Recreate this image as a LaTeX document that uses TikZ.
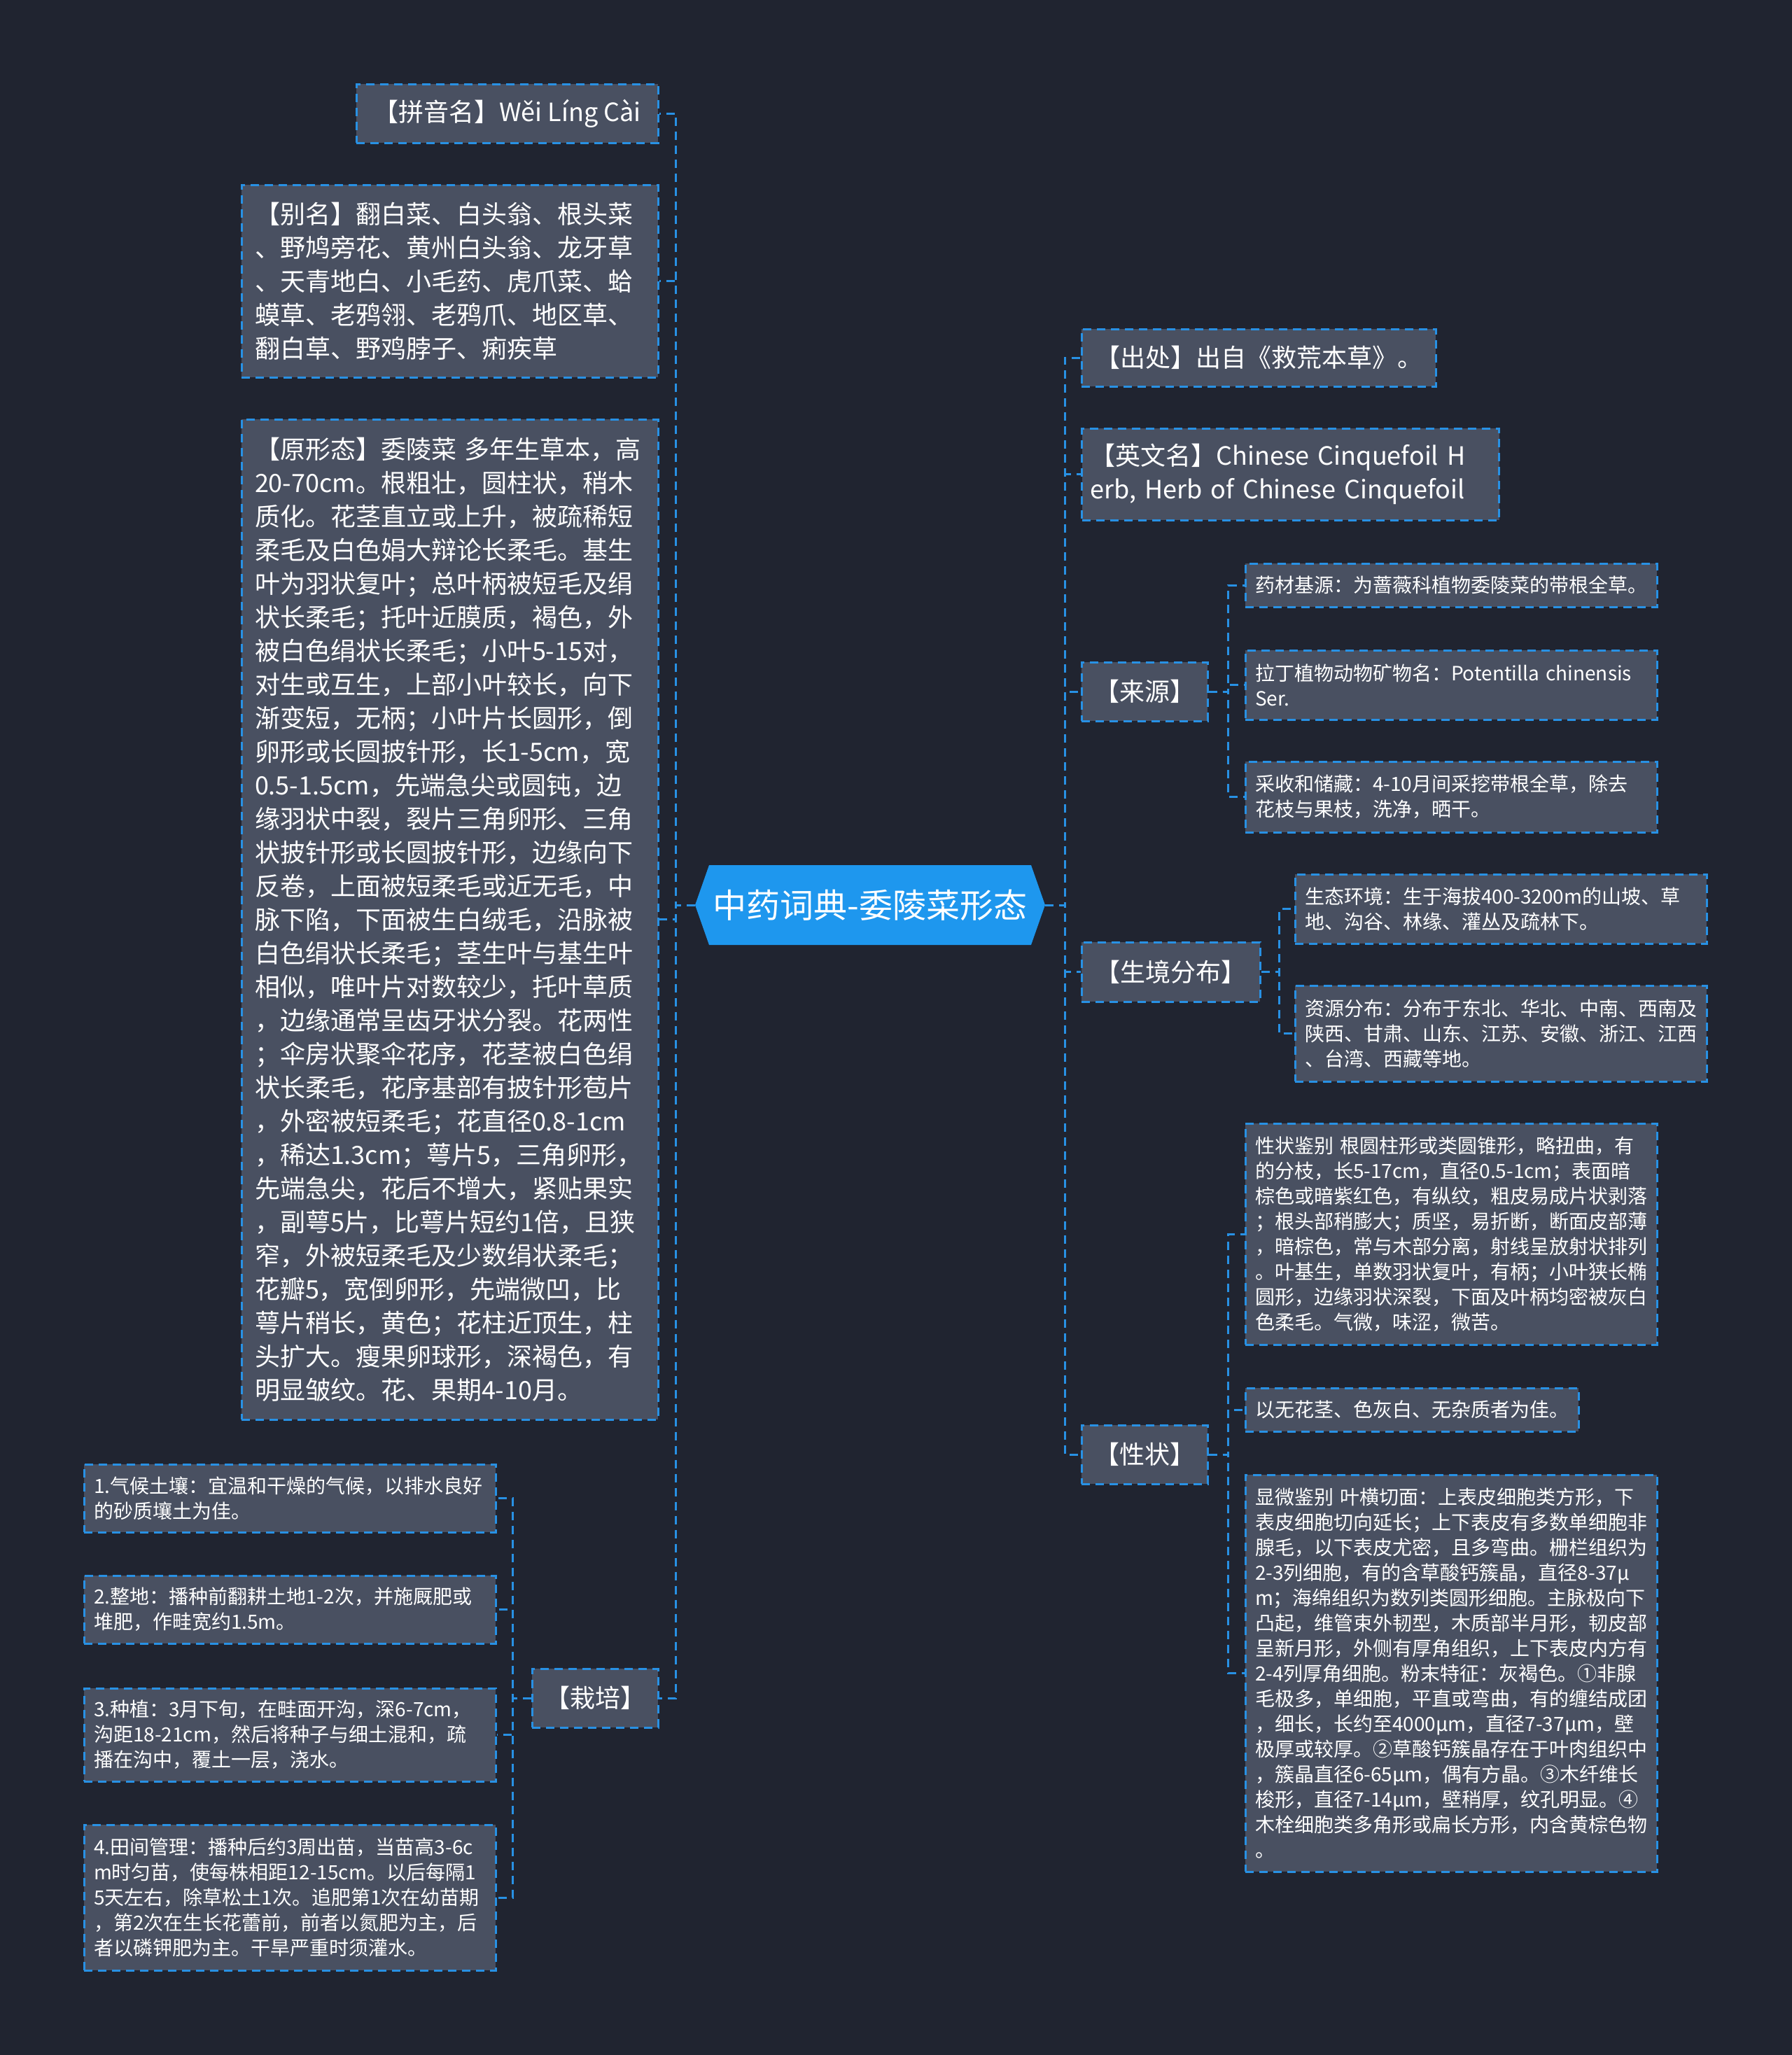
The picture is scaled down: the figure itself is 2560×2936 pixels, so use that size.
\documentclass[tikz,border=0pt]{standalone}
\usepackage{fontspec}
\setmainfont{Noto Sans CJK SC}
\definecolor{bgc}{RGB}{32,36,48}
\definecolor{boxfill}{RGB}{73,80,97}
\definecolor{lineblue}{RGB}{40,145,228}
\definecolor{rootblue}{RGB}{30,151,238}
\tikzset{
  box/.style={draw=lineblue, fill=boxfill, dash pattern=on 6pt off 4pt, line width=1.5pt, text=white, inner ysep=0pt, anchor=center},
  bigbox/.style={box, font=\fontsize{18pt}{24pt}\selectfont, inner xsep=9.5pt, align=left},
  bigone/.style={box, font=\fontsize{18pt}{24pt}\selectfont, inner xsep=0pt, align=center},
  smallbox/.style={box, font=\fontsize{14pt}{18pt}\selectfont, inner xsep=7pt, align=left},
  conn/.style={draw=lineblue, dash pattern=on 6pt off 4pt, line width=1.5pt},
}
\begin{document}
\begin{tikzpicture}[x=0.5pt,y=-0.5pt]
\fill[bgc] (0,0) rectangle (2560,2936);
\useasboundingbox (0,0) rectangle (2560,2936);
% root
\fill[rootblue] (993,1293) -- (1013,1236) -- (1473,1236) -- (1493,1293) -- (1473,1350) -- (1013,1350) -- cycle;
\node[minimum width=250pt, minimum height=57pt, inner sep=0pt, text=white, font=\fontsize{24pt}{28pt}\selectfont] (root) at (1243,1293) {中药词典-委陵菜形态};
% left level 1
\node[bigone, minimum width=215.5pt, minimum height=42pt] (pinyin) at (724.5,162) {【拼音名】Wěi Líng Cài};
\node[bigbox, text width=278.5pt, minimum height=137.5pt] (bieming) at (642.5,401.5) {【别名】翻白菜、白头翁、根头菜\\、野鸠旁花、黄州白头翁、龙牙草\\、天青地白、小毛药、虎爪菜、蛤\\蟆草、老鸦翎、老鸦爪、地区草、\\翻白草、野鸡脖子、痢疾草};
\node[bigbox, text width=278.5pt, minimum height=714.5pt] (yuan) at (642.5,1313.5) {\mbox{【原形态】委陵菜 多年生草本，高}\\20-70cm。根粗壮，圆柱状，稍木\\质化。花茎直立或上升，被疏稀短\\柔毛及白色娟大辩论长柔毛。基生\\叶为羽状复叶；总叶柄被短毛及绢\\状长柔毛；托叶近膜质，褐色，外\\被白色绢状长柔毛；小叶5-15对，\\对生或互生，上部小叶较长，向下\\渐变短，无柄；小叶片长圆形，倒\\卵形或长圆披针形，长1-5cm，宽\\0.5-1.5cm，先端急尖或圆钝，边\\缘羽状中裂，裂片三角卵形、三角\\状披针形或长圆披针形，边缘向下\\反卷，上面被短柔毛或近无毛，中\\脉下陷，下面被生白绒毛，沿脉被\\白色绢状长柔毛；茎生叶与基生叶\\相似，唯叶片对数较少，托叶草质\\，边缘通常呈齿牙状分裂。花两性\\；伞房状聚伞花序，花茎被白色绢\\状长柔毛，花序基部有披针形苞片\\，外密被短柔毛；花直径0.8-1cm\\，稀达1.3cm；萼片5，三角卵形，\\先端急尖，花后不增大，紧贴果实\\，副萼5片，比萼片短约1倍，且狭\\窄，外被短柔毛及少数绢状柔毛；\\花瓣5，宽倒卵形，先端微凹，比\\萼片稍长，黄色；花柱近顶生，柱\\头扩大。瘦果卵球形，深褐色，有\\明显皱纹。花、果期4-10月。};
\node[bigone, minimum width=90pt, minimum height=42pt] (zaipei) at (850,2426) {【栽培】};
% zaipei children
\node[smallbox, text width=280pt, minimum height=48.5pt] (z1) at (414,2140.5) {1.气候土壤：宜温和干燥的气候，以排水良好\\的砂质壤土为佳。};
\node[smallbox, text width=280pt, minimum height=48.5pt] (z2) at (414,2299.5) {2.整地：播种前翻耕土地1-2次，并施厩肥或\\堆肥，作畦宽约1.5m。};
\node[smallbox, text width=280pt, minimum height=66.5pt] (z3) at (414,2478.5) {3.种植：3月下旬，在畦面开沟，深6-7cm，\\沟距18-21cm，然后将种子与细土混和，疏\\播在沟中，覆土一层，浇水。};
\node[smallbox, text width=280pt, minimum height=104pt] (z4) at (414,2711) {4.田间管理：播种后约3周出苗，当苗高3-6c\\m时匀苗，使每株相距12-15cm。以后每隔1\\5天左右，除草松土1次。追肥第1次在幼苗期\\，第2次在生长花蕾前，前者以氮肥为主，后\\者以磷钾肥为主。干旱严重时须灌水。};
% right level 1
\node[bigone, minimum width=253pt, minimum height=41pt] (chuchu) at (1798,511) {【出处】出自《救荒本草》。};
\node[bigbox, inner xsep=6pt, text width=286pt, minimum height=65.5pt] (yingwen) at (1843.5,677.5) {\mbox{【英文名】Chinese Cinquefoil H}\\\mbox{erb, Herb of Chinese Cinquefoil}};
\node[bigone, minimum width=90pt, minimum height=42pt] (laiyuan) at (1635,988) {【来源】};
\node[bigone, minimum width=127.5pt, minimum height=42.5pt] (shengjing) at (1672.5,1388.5) {【生境分布】};
\node[bigone, minimum width=90pt, minimum height=42pt] (xingzhuang) at (1635,2078) {【性状】};
% laiyuan children
\node[smallbox, text width=280pt, minimum height=31pt] (ly1) at (2073,836) {药材基源：为蔷薇科植物委陵菜的带根全草。};
\node[smallbox, text width=280pt, minimum height=49.5pt] (ly2) at (2073,978.5) {\mbox{拉丁植物动物矿物名：Potentilla chinensis}\\Ser.};
\node[smallbox, text width=280pt, minimum height=50.5pt] (ly3) at (2073,1138.5) {采收和储藏：4-10月间采挖带根全草，除去\\花枝与果枝，洗净，晒干。};
% shengjing children
\node[smallbox, text width=280pt, minimum height=49.5pt] (sj1) at (2144,1298.5) {生态环境：生于海拔400-3200m的山坡、草\\地、沟谷、林缘、灌丛及疏林下。};
\node[smallbox, text width=280pt, minimum height=68.5pt] (sj2) at (2144,1476.5) {资源分布：分布于东北、华北、中南、西南及\\陕西、甘肃、山东、江苏、安徽、浙江、江西\\、台湾、西藏等地。};
% xingzhuang children
\node[smallbox, text width=280pt, minimum height=158pt] (xz1) at (2073,1763) {\mbox{性状鉴别 根圆柱形或类圆锥形，略扭曲，有}\\的分枝，长5-17cm，直径0.5-1cm；表面暗\\棕色或暗紫红色，有纵纹，粗皮易成片状剥落\\；根头部稍膨大；质坚，易折断，断面皮部薄\\，暗棕色，常与木部分离，射线呈放射状排列\\。叶基生，单数羽状复叶，有柄；小叶狭长椭\\圆形，边缘羽状深裂，下面及叶柄均密被灰白\\色柔毛。气微，味涩，微苦。};
\node[smallbox, text width=224pt, minimum height=31pt] (xz2) at (2017,2014) {以无花茎、色灰白、无杂质者为佳。};
\node[smallbox, text width=280pt, minimum height=283.5pt] (xz3) at (2073,2390.5) {\mbox{显微鉴别 叶横切面：上表皮细胞类方形，下}\\表皮细胞切向延长；上下表皮有多数单细胞非\\腺毛，以下表皮尤密，且多弯曲。栅栏组织为\\2-3列细胞，有的含草酸钙簇晶，直径8-37μ\\m；海绵组织为数列类圆形细胞。主脉极向下\\凸起，维管束外韧型，木质部半月形，韧皮部\\呈新月形，外侧有厚角组织，上下表皮内方有\\2-4列厚角细胞。粉末特征：灰褐色。①非腺\\毛极多，单细胞，平直或弯曲，有的缠结成团\\，细长，长约至4000μm，直径7-37μm，壁\\极厚或较厚。②草酸钙簇晶存在于叶肉组织中\\，簇晶直径6-65μm，偶有方晶。③木纤维长\\梭形，直径7-14μm，壁稍厚，纹孔明显。④\\木栓细胞类多角形或扁长方形，内含黄棕色物\\。};
% connectors left
\draw[conn] (root.west) -- ++(-27,0) |- (pinyin.east);
\draw[conn] (root.west) -- ++(-27,0) |- (bieming.east);
\draw[conn] (root.west) -- ++(-27,0) |- (yuan.east);
\draw[conn] (root.west) -- ++(-27,0) |- (zaipei.east);
\draw[conn] (zaipei.west) -- ++(-26,0) |- (z1.east);
\draw[conn] (zaipei.west) -- ++(-26,0) |- (z2.east);
\draw[conn] (zaipei.west) -- ++(-26,0) |- (z3.east);
\draw[conn] (zaipei.west) -- ++(-26,0) |- (z4.east);
% connectors right
\draw[conn] (root.east) -- ++(28,0) |- (chuchu.west);
\draw[conn] (root.east) -- ++(28,0) |- (yingwen.west);
\draw[conn] (root.east) -- ++(28,0) |- (laiyuan.west);
\draw[conn] (root.east) -- ++(28,0) |- (shengjing.west);
\draw[conn] (root.east) -- ++(28,0) |- (xingzhuang.west);
\draw[conn] (laiyuan.east) -- ++(28,0) |- (ly1.west);
\draw[conn] (laiyuan.east) -- ++(28,0) |- (ly2.west);
\draw[conn] (laiyuan.east) -- ++(28,0) |- (ly3.west);
\draw[conn] (shengjing.east) -- ++(26,0) |- (sj1.west);
\draw[conn] (shengjing.east) -- ++(26,0) |- (sj2.west);
\draw[conn] (xingzhuang.east) -- ++(28,0) |- (xz1.west);
\draw[conn] (xingzhuang.east) -- ++(28,0) |- (xz2.west);
\draw[conn] (xingzhuang.east) -- ++(28,0) |- (xz3.west);
\end{tikzpicture}
\end{document}
